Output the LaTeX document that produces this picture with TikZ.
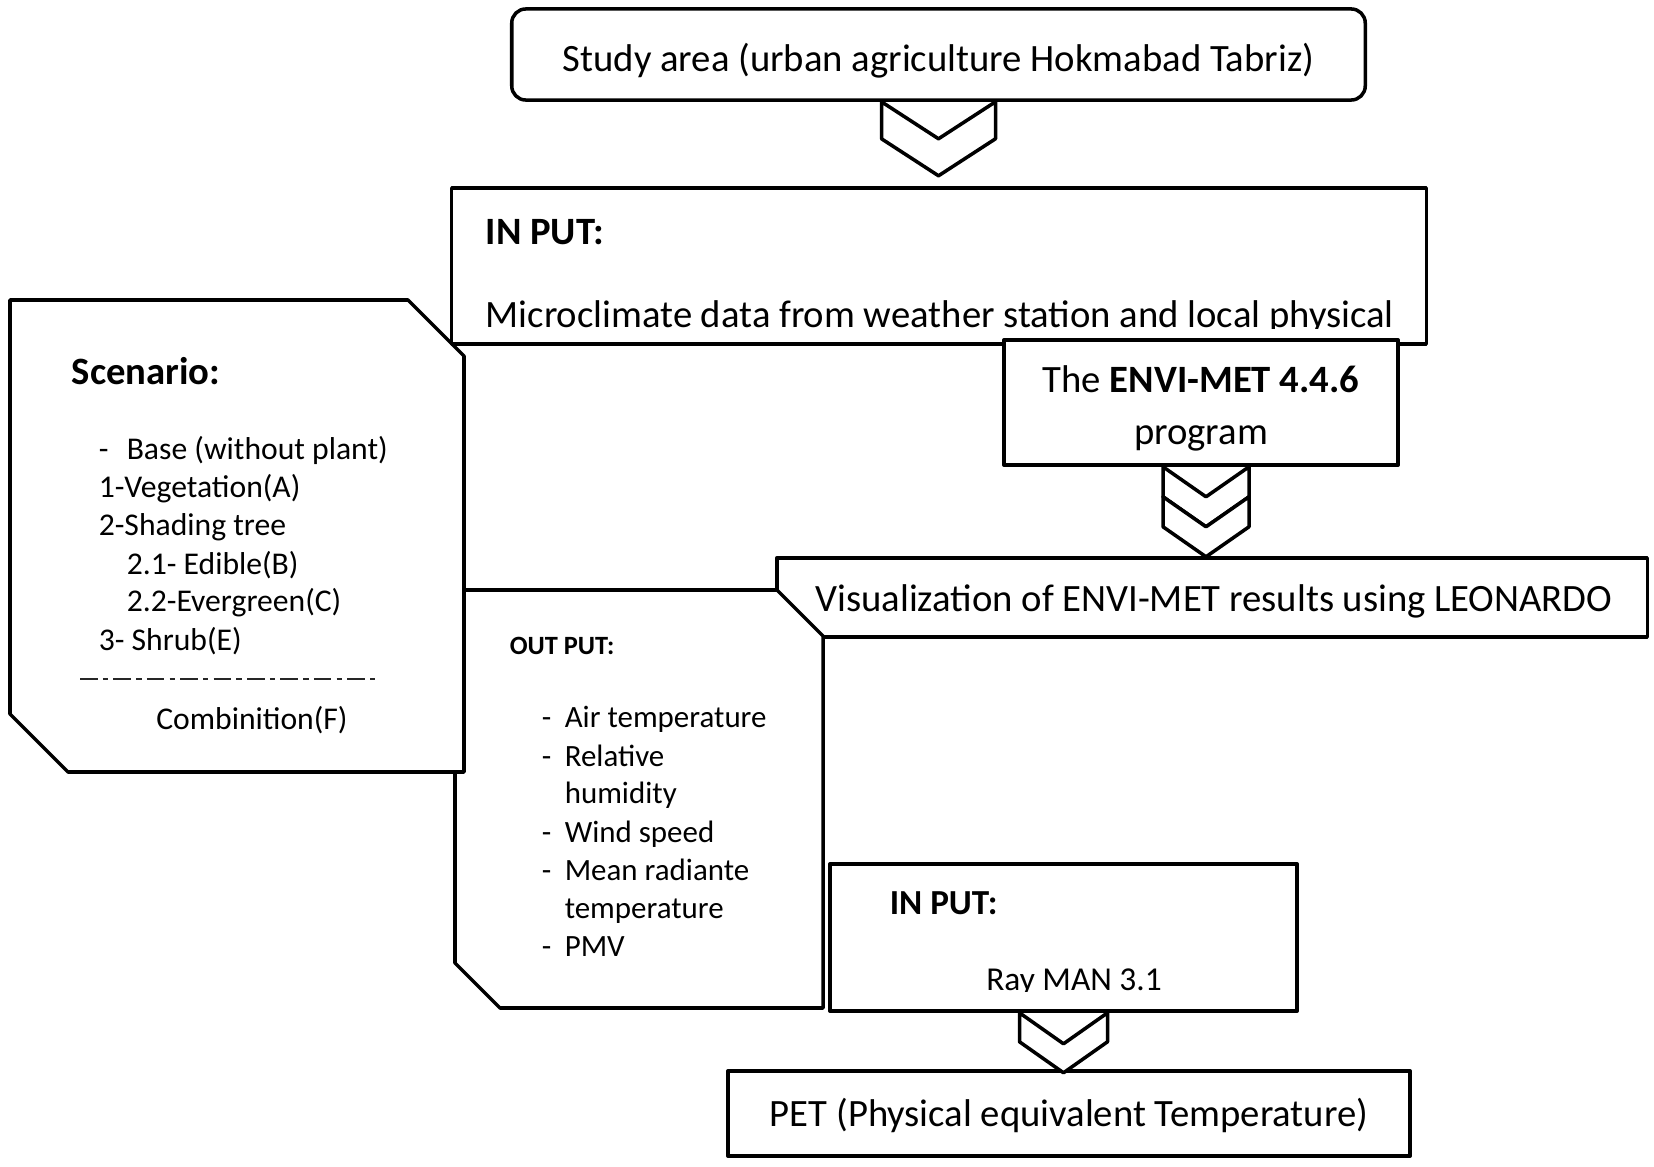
\documentclass[tikz,border=0pt]{standalone}
\usepackage{fontspec}
\setmainfont{Carlito}
\usetikzlibrary{positioning,calc}

\begin{document}
\begin{tikzpicture}[x=0.01cm, y=-0.01cm, line width=1pt, line join=round,
        box/.style = {draw, fill=white, inner sep=0pt},
        main/.style = {inner sep=0pt, font=\fontsize{11}{13}\selectfont},
        headtxt/.style = {inner sep=0pt, anchor=base west, font=\fontsize{11}{13}\selectfont\bfseries},
        lst/.style = {inner sep=0pt, anchor=base west, font=\fontsize{9}{11}\selectfont},
        outlst/.style = {inner sep=0pt, anchor=base west, font=\fontsize{8.8}{10.5}\selectfont},
        pics/chevron/.style n args = {3}{code={
            \draw[fill=white] (-#1,0) -- (0,#3) -- (#1,0) -- (#1,#2) -- (0,#2+#3) -- (-#1,#2) -- cycle;}}]
        \useasboundingbox (0,0) rectangle (1654,1167);

        % Visualization
        \node[box, minimum width=8.7cm, minimum height=0.79cm] (vis) at (1212,597.5) {};
        \node[main] (vistxt) at ($(vis.center)+(2,4)$) {Visualization of ENVI-MET results using LEONARDO};

        % Output box
        \draw[fill=white] (455,590) -- (777,590) -- (823,636) -- (823,1008) -- (500,1008) -- (455,963) -- cycle;
        \node[inner sep=0pt, anchor=base west, font=\fontsize{7.5}{9}\selectfont\bfseries] (out) at (508,655) {OUT PUT:};
        \node[outlst] (o1) at (540,728) {\makebox[0.23cm][l]{-}Air temperature};
        \node[outlst] (o2) at (540,766) {\makebox[0.23cm][l]{-}Relative};
        \node[outlst] (o3) at (563,804) {humidity};
        \node[outlst] (o4) at (540,842) {\makebox[0.23cm][l]{-}Wind speed};
        \node[outlst] (o5) at (540,880) {\makebox[0.23cm][l]{-}Mean radiante};
        \node[outlst] (o6) at (563,918) {temperature};
        \node[outlst] (o7) at (540,956) {\makebox[0.23cm][l]{-}PMV};

        % Scenario box
        \draw[fill=white] (10,300) -- (408,300) -- (464,356) -- (464,772) -- (68,772) -- (10,714) -- cycle;
        \node[headtxt] (scen) at (70,385) {Scenario:};
        \node[lst] (s0) at (97,460) {\makebox[0.28cm][l]{-}Base (without plant)};
        \node[lst] (s1) at (97,498) {1-Vegetation(A)};
        \node[lst] (s2) at (97,536) {2-Shading tree};
        \node[lst] (s3) at (125,574) {2.1- Edible(B)};
        \node[lst] (s4) at (125,612) {2.2-Evergreen(C)};
        \node[lst] (s5) at (97,650) {3- Shrub(E)};
        \draw[line width=0.8pt, black!85, dash pattern=on 5pt off 1.5pt on 1.5pt off 1.5pt] (80,679) -- (377,679);
        \node[lst, anchor=base] (s6) at (252,729) {Combinition(F)};

        % Input box
        \node[box, minimum width=9.74cm, minimum height=1.56cm] (inp) at (939,266) {};
        \node[headtxt] (intitle) at (484,245) {IN PUT:};
        \begin{scope}
            \clip (452,188) rectangle (1426,329);
            \node[main, anchor=base west] (micro) at (484,328) {Microclimate data from weather station and local physical};
        \end{scope}

        % ENVI-MET program
        \node[box, minimum width=3.94cm, minimum height=1.25cm] (envi) at (1201,402.5) {};
        \node[main, align=center, font=\fontsize{11}{14.8}\selectfont] (envitxt) at ($(envi.center)+(0,6)$) {The \textbf{ENVI-MET 4.4.6}\\program};

        % Study area
        \node[box, rounded corners=0.14cm, minimum width=8.53cm, minimum height=0.91cm] (study) at (938.5,54.5) {};
        \node[main] (studytxt) at ($(study.center)+(0,6)$) {Study area (urban agriculture Hokmabad Tabriz)};

        % Chevrons
        \pic at (study.south) {chevron={57}{37}{37}};
        \pic at ($(envi.south)+(5,0)$) {chevron={43}{30}{30}};
        \pic at ($(envi.south)+(5,30)$) {chevron={43}{30}{30}};

        % RayMan input
        \node[box, minimum width=4.67cm, minimum height=1.47cm] (ray) at (1063.5,937.5) {};
        \node[inner sep=0pt, anchor=base west, font=\fontsize{10}{12}\selectfont\bfseries] (raytitle) at (888,914) {IN PUT:};
        \begin{scope}
            \clip (830,864) rectangle (1297,991);
            \node[inner sep=0pt, anchor=base, font=\fontsize{9.5}{11}\selectfont] (rayman) at (1074,990) {Ray MAN 3.1};
        \end{scope}

        % PET
        \node[box, minimum width=6.82cm, minimum height=0.85cm] (pet) at (1069,1113.5) {};
        \node[main] (pettxt) at ($(pet.center)+(0,2)$) {PET (Physical equivalent Temperature)};
        \pic at (ray.south) {chevron={44}{29}{31}};
    \end{tikzpicture}
\end{document}
